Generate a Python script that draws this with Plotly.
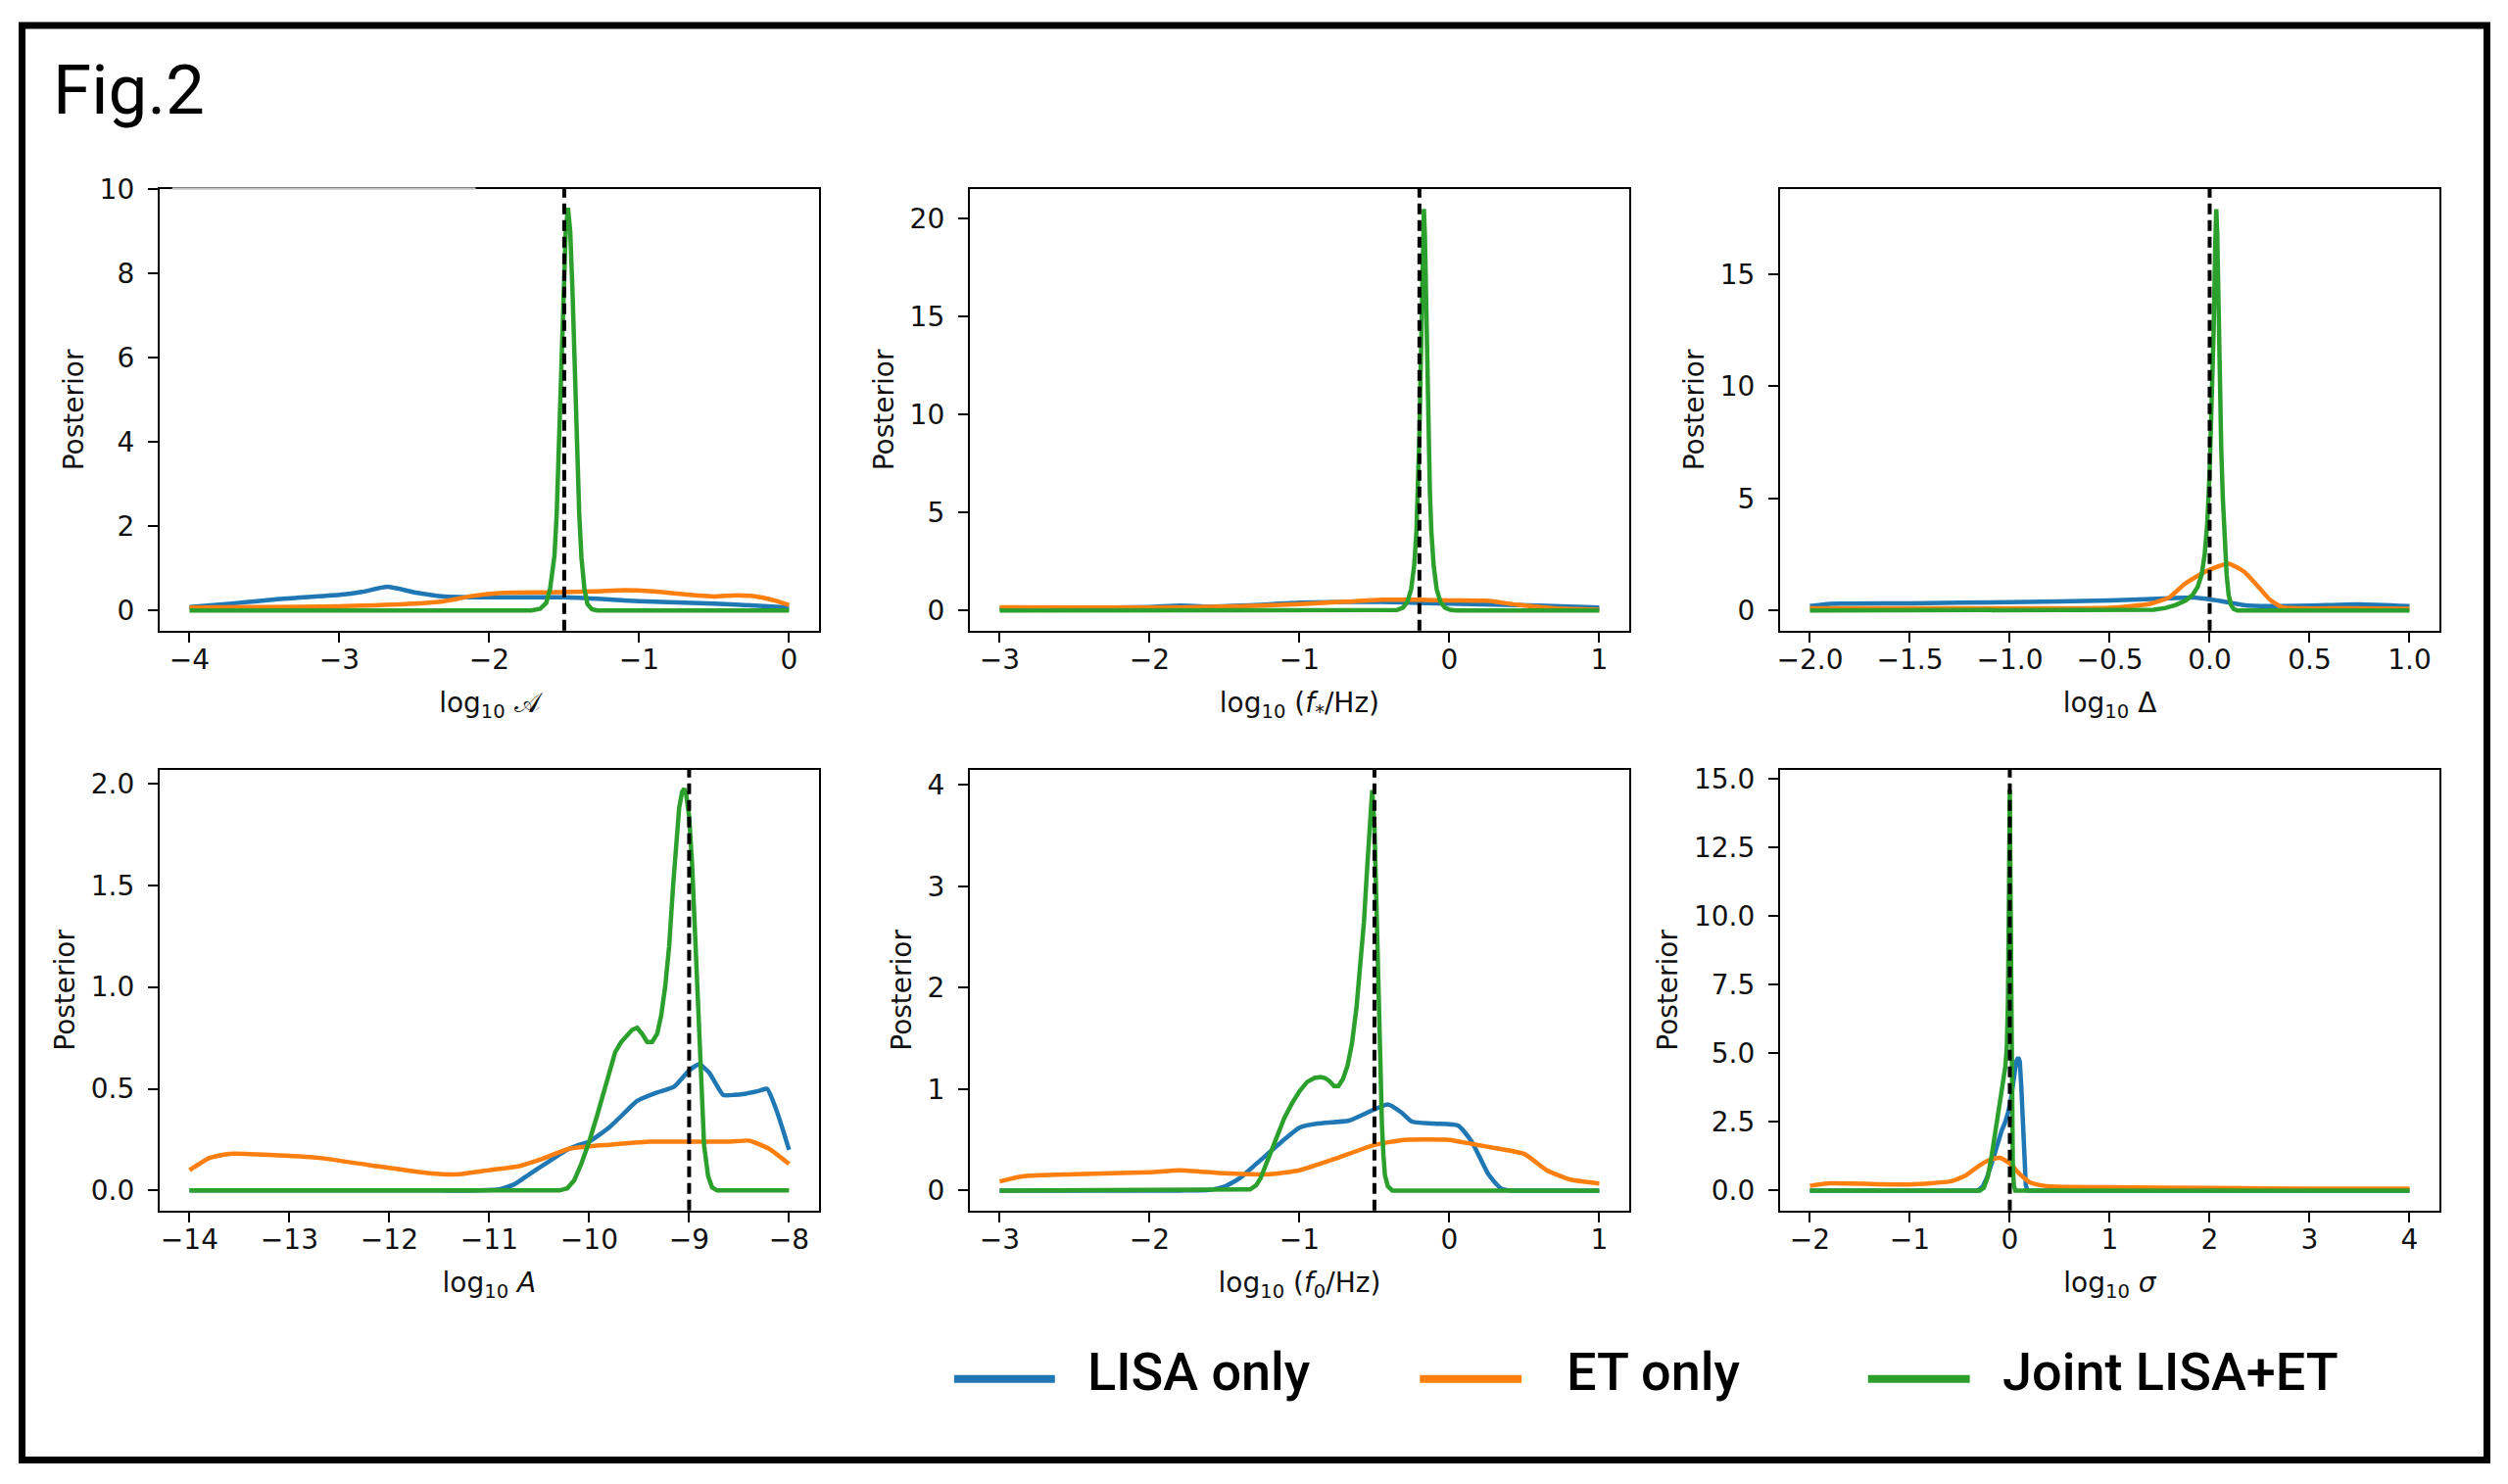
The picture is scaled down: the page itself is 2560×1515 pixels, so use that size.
import plotly.graph_objects as go
from plotly.subplots import make_subplots

# Values.  Each panel: LISA only, ET only, joint LISA+ET.

# log10 calA
amp_lisa_x = [-4, -3.7, -3.4, -3.0, -2.85, -2.68, -2.5, -2.3, -2.0, -1.5, -1.2, -1.0, -0.5, -0.2, 0]
amp_lisa_y = [0.08, 0.17, 0.27, 0.37, 0.44, 0.56, 0.43, 0.33, 0.31, 0.31, 0.26, 0.22, 0.16, 0.11, 0.07]
amp_et_x = [-4, -3.5, -3.0, -2.5, -2.3, -2.1, -1.9, -1.6, -1.3, -1.1, -0.9, -0.7, -0.5, -0.35, -0.2, -0.1, 0]
amp_et_y = [0.07, 0.08, 0.1, 0.16, 0.22, 0.35, 0.42, 0.43, 0.45, 0.48, 0.45, 0.38, 0.33, 0.36, 0.32, 0.24, 0.13]
amp_joint_x = [-4, -1.72, -1.66, -1.62, -1.595, -1.565, -1.55, -1.535, -1.52, -1.505, -1.49, -1.475,
               -1.46, -1.445, -1.43, -1.415, -1.4, -1.385, -1.365, -1.345, -1.315, -1.28, 0]
amp_joint_y = [0, 0, 0.04, 0.18, 0.5, 1.3, 2.3, 3.9, 5.8, 7.6, 9.0, 9.55,
               9.0, 7.6, 5.8, 3.9, 2.3, 1.25, 0.5, 0.15, 0.03, 0, 0]

# log10 (f*/Hz)
fstar_lisa_x = [-3, -2.5, -2.0, -1.8, -1.6, -1.3, -1.0, -0.6, -0.3, 0, 0.3, 0.6, 1.0]
fstar_lisa_y = [0.1, 0.13, 0.18, 0.25, 0.2, 0.28, 0.4, 0.45, 0.42, 0.35, 0.3, 0.25, 0.15]
fstar_et_x = [-3, -2.5, -2.0, -1.5, -1.0, -0.7, -0.45, -0.2, 0, 0.25, 0.45, 0.7, 1.0]
fstar_et_y = [0.17, 0.16, 0.15, 0.2, 0.33, 0.45, 0.55, 0.55, 0.52, 0.5, 0.3, 0.12, 0.04]
fstar_joint_x = [-3, -0.39, -0.35, -0.31, -0.28, -0.255, -0.235, -0.22, -0.21, -0.2, -0.191, -0.184, -0.177, -0.17,
                 -0.163, -0.156, -0.149, -0.14, -0.13, -0.12, -0.105, -0.085, -0.06, -0.03, 0.01, 0.05, 1]
fstar_joint_y = [0, 0, 0.03, 0.15, 0.45, 1.1, 2.3, 4.0, 6.0, 9.0, 12.5, 16.0, 19.0, 20.5,
                 19.0, 16.0, 12.5, 9.0, 6.0, 4.0, 2.3, 1.1, 0.45, 0.15, 0.03, 0, 0]

# log10 Delta
delta_lisa_x = [-2.0, -1.9, -1.5, -1.0, -0.5, -0.2, -0.08, 0.06, 0.17, 0.3, 0.5, 0.75, 1.0]
delta_lisa_y = [0.2, 0.3, 0.32, 0.38, 0.45, 0.55, 0.58, 0.42, 0.25, 0.2, 0.22, 0.28, 0.2]
delta_et_x = [-2.0, -1.5, -1.0, -0.5, -0.3, -0.2, -0.13, -0.05, 0.02, 0.094, 0.17, 0.25, 0.3, 0.36, 0.45, 0.7, 1.0]
delta_et_y = [0.1, 0.1, 0.1, 0.12, 0.3, 0.6, 1.15, 1.6, 1.9, 2.09, 1.75, 1.0, 0.5, 0.15, 0.1, 0.1, 0.08]
delta_joint_x = [-2.0, -0.35, -0.28, -0.22, -0.17, -0.12, -0.085, -0.06, -0.04, -0.025, -0.012, 0.0, 0.01, 0.02,
                 0.028, 0.033, 0.038, 0.044, 0.05, 0.058, 0.066, 0.075, 0.085, 0.095, 0.107, 0.12, 0.14, 1.0]
delta_joint_y = [0, 0, 0.04, 0.12, 0.25, 0.45, 0.7, 1.05, 1.6, 2.5, 3.9, 6.2, 8.8, 12.5,
                 16.3, 17.9, 16.8, 13.5, 10.3, 7.2, 5.0, 3.0, 1.6, 0.7, 0.25, 0.07, 0, 0]

# log10 A
bigA_lisa_x = [-14, -11.5, -11.1, -10.9, -10.75, -10.6, -10.49, -10.35, -10.22, -10.1, -10.0, -9.8, -9.65, -9.52,
               -9.33, -9.15, -9.0, -8.9, -8.8, -8.66, -8.55, -8.45, -8.3, -8.22, -8.13, -8.05, -8.0]
bigA_lisa_y = [0, 0, 0, 0.005, 0.03, 0.08, 0.115, 0.16, 0.2, 0.225, 0.24, 0.31, 0.38, 0.44,
               0.48, 0.51, 0.59, 0.62, 0.58, 0.47, 0.47, 0.475, 0.49, 0.5, 0.4, 0.28, 0.2]
bigA_et_x = [-14, -13.8, -13.6, -13.2, -12.7, -12.2, -11.6, -11.3, -11.0, -10.7, -10.5, -10.2, -9.8, -9.4, -9.0,
             -8.6, -8.4, -8.2, -8.0]
bigA_et_y = [0.1, 0.16, 0.18, 0.175, 0.16, 0.125, 0.085, 0.08, 0.1, 0.12, 0.15, 0.205, 0.225, 0.24, 0.24,
             0.24, 0.245, 0.205, 0.13]
bigA_joint_x = [-14, -10.3, -10.22, -10.15, -10.08, -10.0, -9.92, -9.85, -9.79, -9.74, -9.68, -9.62, -9.57, -9.52,
                -9.47, -9.42, -9.37, -9.32, -9.28, -9.24, -9.2, -9.16, -9.13, -9.1, -9.07, -9.05, -9.03, -9.0,
                -8.97, -8.94, -8.91, -8.88, -8.85, -8.81, -8.77, -8.72, -8.0]
bigA_joint_y = [0, 0, 0.01, 0.05, 0.13, 0.24, 0.37, 0.49, 0.6, 0.68, 0.73, 0.76, 0.79, 0.8,
                0.77, 0.73, 0.73, 0.77, 0.86, 1.0, 1.2, 1.5, 1.72, 1.88, 1.96, 1.975, 1.95, 1.84,
                1.6, 1.25, 0.85, 0.5, 0.22, 0.07, 0.015, 0, 0]

# log10 (f0/Hz)
f0_lisa_x = [-3, -1.8, -1.6, -1.5, -1.4, -1.26, -1.12, -1.0, -0.88, -0.67, -0.53, -0.41, -0.32, -0.25, -0.11,
             0.06, 0.15, 0.26, 0.34, 0.4, 0.5, 1.0]
f0_lisa_y = [0, 0, 0.005, 0.04, 0.12, 0.3, 0.48, 0.62, 0.66, 0.69, 0.78, 0.85, 0.77, 0.68, 0.66,
             0.64, 0.48, 0.16, 0.025, 0, 0, 0]
f0_et_x = [-3, -2.85, -2.5, -2.0, -1.8, -1.5, -1.2, -1.0, -0.75, -0.5, -0.3, 0.0, 0.15, 0.3, 0.5, 0.65, 0.8, 1.0]
f0_et_y = [0.09, 0.14, 0.16, 0.18, 0.2, 0.17, 0.16, 0.2, 0.32, 0.45, 0.5, 0.5, 0.46, 0.42, 0.36, 0.2, 0.11, 0.07]
f0_joint_x = [-3, -1.4, -1.33, -1.29, -1.26, -1.22, -1.18, -1.14, -1.1, -1.05, -1.0, -0.95, -0.9, -0.86, -0.83,
              -0.8, -0.77, -0.74, -0.71, -0.68, -0.65, -0.62, -0.59, -0.57, -0.55, -0.53, -0.515, -0.5, -0.49,
              -0.48, -0.47, -0.46, -0.45, -0.44, -0.43, -0.41, -0.38, 1.0]
f0_joint_y = [0, 0, 0.01, 0.05, 0.12, 0.27, 0.42, 0.58, 0.72, 0.86, 0.98, 1.07, 1.11, 1.12, 1.11,
              1.08, 1.03, 1.03, 1.1, 1.23, 1.45, 1.8, 2.26, 2.65, 3.15, 3.65, 3.95, 3.6, 3.0,
              2.4, 1.7, 1.1, 0.65, 0.35, 0.15, 0.04, 0, 0]

# log10 sigma
sigma_lisa_x = [-2, -0.32, -0.27, -0.23, -0.18, -0.12, -0.08, -0.05, -0.02, 0.01, 0.04, 0.065, 0.085, 0.1, 0.115,
                0.13, 0.145, 0.16, 0.175, 4]
sigma_lisa_y = [0, 0, 0.15, 0.46, 1.0, 1.8, 2.2, 2.45, 2.8, 3.3, 4.2, 4.7, 4.85, 4.7, 3.8,
                2.3, 0.9, 0.2, 0, 0]
sigma_et_x = [-2, -1.8, -1.0, -0.6, -0.45, -0.3, -0.2, -0.1, 0.0, 0.1, 0.2, 0.35, 0.6, 1.0, 2.0, 3.0, 4.0]
sigma_et_y = [0.17, 0.26, 0.22, 0.33, 0.53, 0.92, 1.12, 1.19, 0.99, 0.6, 0.3, 0.17, 0.13, 0.12, 0.09, 0.07, 0.07]
sigma_joint_x = [-2, -0.3, -0.26, -0.22, -0.18, -0.14, -0.1, -0.07, -0.045, -0.03, -0.018, -0.008, 0.0, 0.006,
                 0.012, 0.02, 0.03, 0.04, 0.055, 4]
sigma_joint_y = [0, 0, 0.1, 0.5, 1.3, 2.2, 3.1, 3.8, 4.5, 5.2, 7.0, 11.0, 14.6, 11.5,
                 7.5, 3.5, 1.0, 0.2, 0, 0]

# injected (true) values, dashed lines
truths = [-1.5, -0.2, 0.0, -9.0, -0.5, 0.0]

series_names = ["LISA only", "ET only", "Joint LISA+ET"]
colors = ["#1f77b4", "#ff7f0e", "#2ca02c"]

panels = [
    dict(curves=[(amp_lisa_x, amp_lisa_y), (amp_et_x, amp_et_y), (amp_joint_x, amp_joint_y)],
         xtitle="log<sub>10</sub> 𝒜", xrange=[-4.2, 0.2], yrange=[-0.48, 10.0],
         xdtick=1, ydtick=2, xfmt="", yfmt=""),
    dict(curves=[(fstar_lisa_x, fstar_lisa_y), (fstar_et_x, fstar_et_y), (fstar_joint_x, fstar_joint_y)],
         xtitle="log<sub>10</sub> (<i>f</i><sub>*</sub>/Hz)", xrange=[-3.2, 1.2], yrange=[-1.025, 21.525],
         xdtick=1, ydtick=5, xfmt="", yfmt=""),
    dict(curves=[(delta_lisa_x, delta_lisa_y), (delta_et_x, delta_et_y), (delta_joint_x, delta_joint_y)],
         xtitle="log<sub>10</sub> Δ", xrange=[-2.15, 1.15], yrange=[-0.895, 18.8],
         xdtick=0.5, ydtick=5, xfmt=".1f", yfmt=""),
    dict(curves=[(bigA_lisa_x, bigA_lisa_y), (bigA_et_x, bigA_et_y), (bigA_joint_x, bigA_joint_y)],
         xtitle="log<sub>10</sub> <i>A</i>", xrange=[-14.3, -7.7], yrange=[-0.0985, 2.068],
         xdtick=1, ydtick=0.5, xfmt="", yfmt=".1f"),
    dict(curves=[(f0_lisa_x, f0_lisa_y), (f0_et_x, f0_et_y), (f0_joint_x, f0_joint_y)],
         xtitle="log<sub>10</sub> (<i>f</i><sub>0</sub>/Hz)", xrange=[-3.2, 1.2], yrange=[-0.1975, 4.15],
         xdtick=1, ydtick=1, xfmt="", yfmt=""),
    dict(curves=[(sigma_lisa_x, sigma_lisa_y), (sigma_et_x, sigma_et_y), (sigma_joint_x, sigma_joint_y)],
         xtitle="log<sub>10</sub> <i>σ</i>", xrange=[-2.3, 4.3], yrange=[-0.73, 15.33],
         xdtick=1, ydtick=2.5, xfmt="", yfmt=".1f"),
]

# page is 2560x1515; the html body keeps an 8px margin, so place things in page pixels
OFF = 8
W, H = 2560 - 2 * OFF, 1515 - 2 * OFF


def px(x):
    return (x - OFF) / W


def py(y):
    y = y - (9 - 6 * y / 1515)  # small vertical correction seen in the rendered page
    return 1 - (y - OFF) / H


col_domains = [[px(160), px(834)], [px(988), px(1662)], [px(1816), px(2490)]]
row_domains = [[py(641), py(187)], [py(1237), py(784)]]

txt_font = dict(family="DejaVu Sans", size=28, color="#111111")

fig = make_subplots(rows=2, cols=3)

for i, p in enumerate(panels):
    row, col = i // 3 + 1, i % 3 + 1
    for j, ((xs, ys), name, c) in enumerate(zip(p["curves"], series_names, colors)):
        sharp = j == 2 or (i == 5 and j == 0)
        line = dict(color=c, width=4.5, shape="linear") if sharp else \
            dict(color=c, width=4.5, shape="spline", smoothing=0.5)
        fig.add_trace(go.Scatter(x=xs, y=ys, mode="lines", name=name, showlegend=False, line=line),
                      row=row, col=col)
    fig.add_vline(x=truths[i], line=dict(color="black", width=4, dash="11px,6px"), row=row, col=col)

    ax = "" if i == 0 else str(i + 1)
    fig.layout["xaxis" + ax].update(
        domain=col_domains[col - 1], range=p["xrange"], dtick=p["xdtick"], tick0=0, tickformat=p["xfmt"],
        showline=True, mirror=True, linecolor="black", linewidth=2, showgrid=False, zeroline=False,
        ticks="outside", ticklen=10, tickwidth=2, tickcolor="black", tickfont=txt_font, ticklabelstandoff=-6,
        title=dict(text=p["xtitle"], font=txt_font, standoff=18),
    )
    fig.layout["yaxis" + ax].update(
        domain=row_domains[row - 1], range=p["yrange"], dtick=p["ydtick"], tick0=0, tickformat=p["yfmt"],
        showline=True, mirror=True, linecolor="black", linewidth=2, showgrid=False, zeroline=False,
        ticks="outside", ticklen=10, tickwidth=2, tickcolor="black", tickfont=txt_font, ticklabelstandoff=8,
        title=dict(text="Posterior", font=txt_font, standoff=8),
    )

# rendering glitch on the top frame of the first panel
fig.add_shape(type="line", xref="paper", yref="paper", x0=px(173), x1=px(483), y0=py(187), y1=py(187),
              line=dict(color="white", width=3), layer="above")
fig.add_shape(type="line", xref="paper", yref="paper", x0=px(173), x1=px(483), y0=py(187), y1=py(187),
              line=dict(color="#9a9a9a", width=1), layer="above")

# outer frame
fig.add_shape(type="rect", xref="paper", yref="paper", x0=px(19.5), x1=px(2538.5), y0=py(1493.5), y1=py(19),
              line=dict(color="black", width=7), fillcolor="rgba(0,0,0,0)")

fig.add_annotation(text="Fig.2", xref="paper", yref="paper", x=px(49), y=py(85), xanchor="left",
                   yanchor="middle", showarrow=False, font=dict(family="Roboto", size=71, color="black"))

# legend drawn by hand, as in the picture
leg_lines = [(972, 1075), (1448, 1552), (1906, 2010)]
leg_text_x = [1106, 1596, 2041]
for (x0, x1), tx, name, c in zip(leg_lines, leg_text_x, series_names, colors):
    fig.add_shape(type="line", xref="paper", yref="paper", x0=px(x0), x1=px(x1), y0=py(1410), y1=py(1410),
                  line=dict(color=c, width=8))
    fig.add_annotation(text=name, xref="paper", yref="paper", x=px(tx), y=py(1403), xanchor="left",
                       yanchor="middle", showarrow=False,
                       font=dict(family="Roboto", size=54, color="black", weight=500))

fig.update_layout(width=W, height=H, margin=dict(l=0, r=0, t=0, b=0),
                  paper_bgcolor="white", plot_bgcolor="white", showlegend=False)

fig.write_html("out.html")
